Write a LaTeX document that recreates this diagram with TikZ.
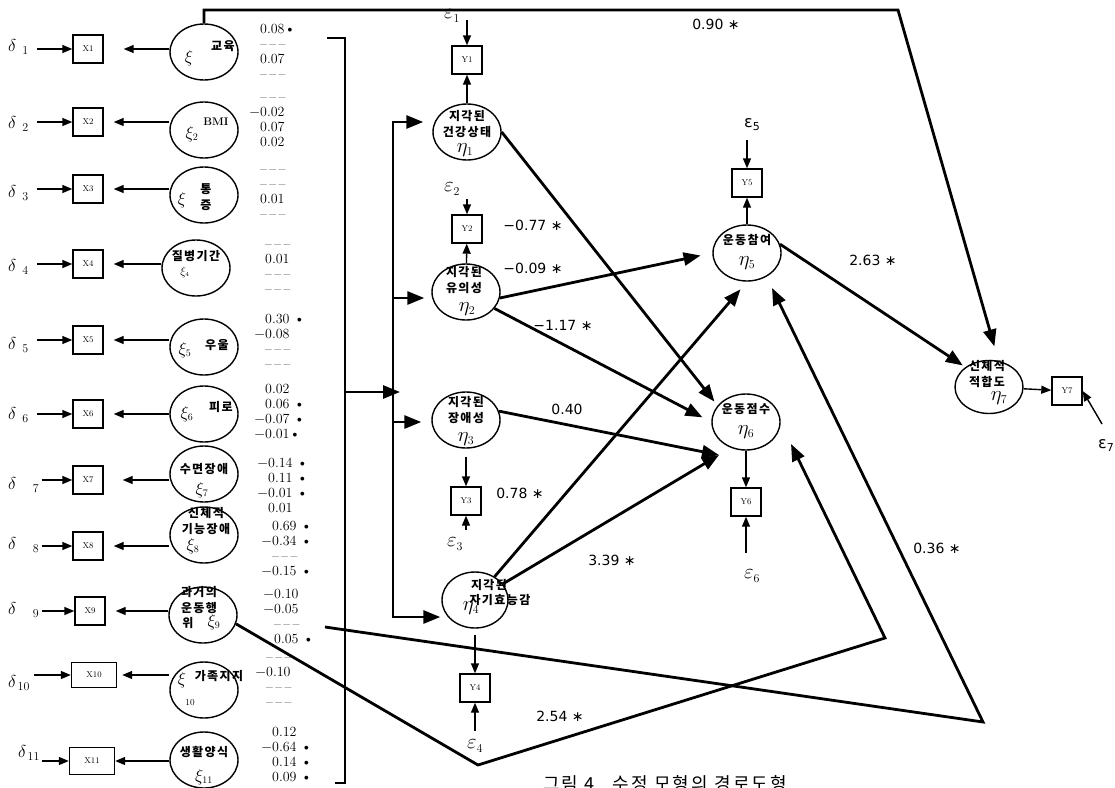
\documentclass[tikz,border=0pt]{standalone}
\usepackage{fontspec}
\newfontfamily\kor[LetterSpace=12]{Noto Sans CJK KR}
\newfontfamily\lab{DejaVu Sans}
\usetikzlibrary{arrows.meta,shapes.geometric}
\newcommand\nv{--\,--\,--}

\begin{document}
\begin{tikzpicture}[x=1pt,y=-1pt,
  lv/.style={draw,ellipse,line width=1.4pt,minimum width=68pt,minimum height=56pt,inner sep=0pt},
  mv/.style={draw,line width=1.4pt,minimum width=30pt,minimum height=28pt,inner sep=0pt,font=\fontsize{8.5}{9}\selectfont},
  meas/.style={-{Triangle[length=10pt,width=8pt]},line width=1.4pt},
  causal/.style={-{Triangle[length=17pt,width=13pt]},line width=2.8pt},
  kt/.style={font=\kor\bfseries\fontsize{12}{15.5}\selectfont,align=center,inner sep=0pt},
  gk/.style={font=\fontsize{17.28}{18}\selectfont,inner sep=0pt},
  ek/.style={font=\fontsize{20.74}{21}\selectfont,inner sep=0pt},
  err/.style={font=\fontsize{20.74}{21}\selectfont,inner sep=0pt},
  dl/.style={font=\fontsize{17.28}{18}\selectfont,inner sep=0pt,anchor=west},
  coef/.style={font=\fontsize{14}{15}\selectfont,align=left,anchor=north west,inner sep=0pt,execute at begin node=\strut},
  wt/.style={font=\lab\fontsize{14}{16}\selectfont,inner sep=0pt},
]
\useasboundingbox (0,0) rectangle (1115,787);

% xi side
\node[lv] (xi1) at (204,52) {};
\node[gk] (g1) at (189,58) {$\xi$};
\node[kt] (k1) at (223,46) {교육};
\node[mv] (x1) at (88,49) {X1};
\node[dl] (d1) at (8,47) {$\delta_{\;\;1}$};
\node[coef] (cf1) at (260,24) {0.08\textbullet\\\nv\\0.07\\\nv};

\node[lv] (xi2) at (204,130) {};
\node[gk] (g2) at (192,134) {$\xi_{\scriptscriptstyle 2}$};
\node[font=\bfseries\fontsize{11}{12}\selectfont,inner sep=0pt] (bmi) at (216,122) {BMI};
\node[mv] (x2) at (88,122) {X2};
\node[dl] (d2) at (8,124) {$\delta_{\;\;2}$};
\node[coef] (cf2) at (260,97) {\nv\\\llap{$-$}0.02\\0.07\\0.02};

\node[lv] (xi3) at (204,195) {};
\node[gk] (g3) at (182,200) {$\xi$};
\node[kt] (k3) at (206,197) {통\\증};
\node[mv] (x3) at (88,189) {X3};
\node[dl] (d3) at (8,193) {$\delta_{\;\;3}$};
\node[coef] (cf3) at (260,169) {\nv\\\nv\\0.01\\\nv};

\node[lv] (xi4) at (196,268) {};
\node[kt] (k4) at (196,256) {질병기간};
\node[font=\fontsize{12}{12}\selectfont,inner sep=0pt] (g4) at (185,272) {$\xi_{\scriptscriptstyle 4}$};
\node[mv] (x4) at (88,264) {X4};
\node[dl] (d4) at (8,267) {$\delta_{\;\;4}$};
\node[coef] (cf4) at (265,244) {\nv\\0.01\\\nv\\\nv};

\node[lv] (xi5) at (204,347) {};
\node[gk] (g5) at (185,350) {$\xi_{\scriptscriptstyle 5}$};
\node[kt] (k5) at (217,345) {우울};
\node[mv] (x5) at (88,340) {X5};
\node[dl] (d5) at (8,345) {$\delta_{\;\;5}$};
\node[coef] (cf5) at (265,314) {0.30 \textbullet\\\llap{$-$}0.08\\\nv\\\nv};

\node[lv] (xi6) at (204,414) {};
\node[gk] (g6) at (187,414) {$\xi_{\scriptscriptstyle 6}$};
\node[kt] (k6) at (221,407) {피로};
\node[mv] (x6) at (88,414) {X6};
\node[dl] (d6) at (8,415) {$\delta_{\;\;6}$};
\node[coef] (cf6) at (265,384) {0.02\\0.06 \textbullet\\\llap{$-$}0.07 \textbullet\\\llap{$-$}0.01\textbullet};

\node[lv] (xi7) at (204,474) {};
\node[kt] (k7) at (204,469) {수면장애};
\node[gk] (g7) at (202,490) {$\xi_{\scriptscriptstyle 7}$};
\node[mv] (x7) at (88,480) {X7};
\node[dl] (d7) at (8,485) {$\delta_{\quad 7}$};
\node[coef] (cf7) at (268,458) {\llap{$-$}0.14 \textbullet\\0.11 \textbullet\\\llap{$-$}0.01 \textbullet\\0.01};

\node[lv] (xi8) at (204,535) {};
\node[kt] (k8) at (206,521) {신체적\\기능장애};
\node[gk] (g8) at (193,546) {$\xi_{\scriptscriptstyle 8}$};
\node[mv] (x8) at (88,546) {X8};
\node[dl] (d8) at (8,545) {$\delta_{\quad 8}$};
\node[coef] (cf8) at (272,521) {0.69 \textbullet\\\llap{$-$}0.34 \textbullet\\\nv\\\llap{$-$}0.15 \textbullet};

\node[lv] (xi9) at (203,615) {};
\node[kt] (k9) at (199,600) {과거의\\운동행};
\node[kt] (k9b) at (188,623) {위};
\node[gk] (g9) at (214,622) {$\xi_{\scriptscriptstyle 9}$};
\node[mv] (x9) at (90,611) {X9};
\node[dl] (d9) at (8,610) {$\delta_{\quad 9}$};
\node[coef] (cf9) at (274,589) {\llap{$-$}0.10\\\llap{$-$}0.05\\\nv\\0.05 \textbullet};

\node[lv] (xi10) at (204,690) {};
\node[gk] (g10) at (182,680) {$\xi$};
\node[font=\fontsize{9}{9}\selectfont,inner sep=0pt] (s10) at (190,703) {10};
\node[kt] (k10) at (219,676) {가족지지};
\node[mv,minimum width=45pt,minimum height=25pt] (x10) at (94,675) {X10};
\node[dl] (d10) at (8,683) {$\delta_{\,10}$};
\node[coef] (cf10) at (266,657) {\nv\\\llap{$-$}0.10\\\nv\\\nv};

\node[lv] (xi11) at (204,760) {};
\node[kt] (k11) at (204,752) {생활양식};
\node[gk] (g11) at (204,777) {$\xi_{\scriptscriptstyle 11}$};
\node[mv,minimum width=45pt,minimum height=27pt] (x11) at (92,761) {X11};
\node[dl] (d11) at (18,753) {$\delta_{\,11}$};
\node[coef] (cf11) at (272,727) {0.12\\\llap{$-$}0.64 \textbullet\\0.14 \textbullet\\0.09 \textbullet};

\draw[meas,shorten <=8pt] (d1.east |- x1) -- (x1);
\draw[meas,shorten <=8pt] (d2.east |- x2) -- (x2);
\draw[meas,shorten <=8pt] (d3.east |- x3) -- (x3);
\draw[meas,shorten <=8pt] (d4.east |- x4) -- (x4);
\draw[meas,shorten <=8pt] (d5.east |- x5) -- (x5);
\draw[meas,shorten <=8pt] (d6.east |- x6) -- (x6);
\draw[meas,shorten <=2pt] (d7.east |- x7) -- (x7);
\draw[meas,shorten <=2pt] (d8.east |- x8) -- (x8);
\draw[meas,shorten <=2pt] (d9.east |- x9) -- (x9);
\draw[meas,shorten <=4pt] (d10.east |- x10) -- (x10);
\draw[meas,shorten <=2pt] (d11.east |- x11) -- (x11);

\draw[meas,shorten >=20pt] (x1 -| xi1.west) -- (x1);
\draw[meas,shorten >=10pt] (x2 -| xi2.west) -- (x2);
\draw[meas,shorten >=10pt] (x3 -| xi3.west) -- (x3);
\draw[meas,shorten >=10pt] (x4 -| xi4.west) -- (x4);
\draw[meas,shorten >=10pt] (x5 -| xi5.west) -- (x5);
\draw[meas,shorten >=10pt] (x6 -| xi6.west) -- (x6);
\draw[meas,shorten >=19pt] (x7 -| xi7.west) -- (x7);
\draw[meas,shorten >=10pt] (x8 -| xi8.west) -- (x8);
\draw[meas,shorten >=10pt] (x9 -| xi9.west) -- (x9);
\draw[meas,shorten >=5pt] (x10 -| xi10.west) -- (x10);
\draw[meas] (x11 -| xi11.west) -- (x11);

% bracket and bus to the etas
\draw[line width=2.8pt] (327,38) -- (345,38) -- (345,783) -- (335,783);
\coordinate (bus0) at (345,392);
\coordinate (bus1) at (393,122);
\coordinate (bus2) at (393,298);
\coordinate (bus3) at (393,422);
\coordinate (bus4) at (393,617);
\draw[line width=2.8pt,line cap=rect] (bus1) -- (bus4);

% eta side
\node[lv] (eta1) at (467,132) {};
\node[kt] (h1) at (467,124) {지각된\\건강상태};
\node[ek] (n1) at (465,150) {$\eta_{\scriptscriptstyle 1}$};
\node[mv] (y1) at (467,60) {Y1};
\node[err] (e1) at (452,16) {$\varepsilon_{\scriptscriptstyle 1}$};
\coordinate (t1) at (467,20);

\node[lv] (eta2) at (466,292) {};
\node[kt] (h2) at (464,280) {지각된\\유의성};
\node[ek] (n2) at (467,309) {$\eta_{\scriptscriptstyle 2}$};
\node[mv] (y2) at (467,229) {Y2};
\node[err] (e2) at (452,189) {$\varepsilon_{\scriptscriptstyle 2}$};
\coordinate (t2) at (467,199);

\node[lv] (eta3) at (466,420) {};
\node[kt] (h3) at (466,410) {지각된\\장애성};
\node[ek] (n3) at (466,439) {$\eta_{\scriptscriptstyle 3}$};
\node[mv] (y3) at (466,501) {Y3};
\node[err] (e3) at (455,544) {$\varepsilon_{\scriptscriptstyle 3}$};
\coordinate (t3) at (466,530);

\node[lv,minimum width=66pt] (eta4) at (475,600) {};
\node[kt] (h4) at (489,585) {지각된};
\node[kt] (h4b) at (500,600) {자기효능감};
\node[ek] (n4) at (471,608) {$\eta_{\scriptscriptstyle 4}$};
\node[mv] (y4) at (475,688) {Y4};
\node[err] (e4) at (475,746) {$\varepsilon_{\scriptscriptstyle 4}$};
\coordinate (t4) at (475,731);

\node[lv] (eta5) at (747,253) {};
\node[kt] (h5) at (747,240) {운동참여};
\node[ek] (n5) at (747,263) {$\eta_{\scriptscriptstyle 5}$};
\node[mv] (y5) at (747,183) {Y5};
\node[font=\lab\fontsize{16}{16}\selectfont,inner sep=0pt] (e5) at (752,125) {ε\raisebox{-3pt}{\fontsize{11}{11}\selectfont 5}};
\coordinate (t5) at (747,140);

\node[lv] (eta6) at (746,422) {};
\node[kt] (h6) at (746,409) {운동점수};
\node[ek] (n6) at (746,432) {$\eta_{\scriptscriptstyle 6}$};
\node[mv] (y6) at (746,502) {Y6};
\node[err] (e6) at (752,576) {$\varepsilon_{\scriptscriptstyle 6}$};
\coordinate (t6) at (746,553);

\node[lv,minimum height=53pt] (eta7) at (989,387) {};
\node[kt] (h7) at (987,374) {신체적\\적합도};
\node[ek] (n7) at (999,398) {$\eta_{\scriptscriptstyle 7}$};
\node[mv] (y7) at (1067,391) {Y7};
\node[font=\lab\fontsize{16}{16}\selectfont,inner sep=0pt] (e7) at (1106,446) {ε\raisebox{-3pt}{\fontsize{11}{11}\selectfont 7}};
\coordinate (t7) at (1102,424);

\draw[meas] (eta1) -- (y1);
\draw[meas] (t1) -- (y1);
\draw[meas] (eta2) -- (y2);
\draw[meas] (t2) -- (y2);
\draw[meas,shorten <=8pt] (eta3) -- (y3);
\draw[meas] (t3) -- (y3);
\draw[meas,shorten <=6pt] (eta4) -- (y4);
\draw[meas] (t4) -- (y4);
\draw[meas] (eta5) -- (y5);
\draw[meas] (t5) -- (y5);
\draw[meas] (eta6) -- (y6);
\draw[meas] (t6) -- (y6);
\draw[meas] (eta7) -- (y7);
\draw[meas] (t7) -- (y7.east);

\draw[causal,shorten >=-7pt] (bus0) -- (bus0 -| bus1);
\draw[causal,shorten >=9pt] (bus1) -- (bus1 -| eta1.west);
\draw[causal,shorten >=7pt] (bus2) -- (bus2 -| eta2.west);
\draw[causal,shorten >=10pt] (bus3) -- (bus3 -| eta3.west);
\draw[causal,shorten >=1pt] (bus4) -- (bus4 -| eta4.west);

% structural paths
\coordinate (tr) at (898,10);
\draw[causal,shorten >=15pt] (xi1.north) |- (tr) -- (eta7.70);
\node[wt] (w1) at (716,24) {0.90 ∗};

\draw[causal,shorten >=5pt] (eta1.east) -- (eta6.150);
\node[wt] (w2) at (533,225) {−0.77 ∗};
\draw[causal,shorten >=12pt] (eta2.-10) -- (eta5.west);
\node[wt] (w3) at (533,268) {−0.09 ∗};
\draw[causal,shorten >=10pt] (eta2.-30) -- (eta6.west);
\node[wt] (w4) at (563,325) {−1.17 ∗};

\coordinate (cv6) at (719,455);
\draw[causal] (eta3.15) -- (cv6);
\node[wt] (w5) at (567,409) {0.40};
\draw[causal] (eta4.30) -- (cv6);
\node[wt] (w6) at (612,560) {3.39 ∗};
\draw[causal,shorten >=10pt] (eta4.50) -- (eta5.south);
\node[wt] (w7) at (520,493) {0.78 ∗};
\draw[causal,shorten >=3pt] (eta5.15) -- (eta7.140);
\node[wt] (w8) at (873,260) {2.63 ∗};

\coordinate (va) at (478,765);
\coordinate (vb) at (885,638);
\coordinate (ta6) at (791,444);
\draw[causal] (xi9.-15) -- (va) -- (vb) -- (ta6);
\node[wt] (w9) at (560,716) {2.54 ∗};

\coordinate (s9) at (325,627);
\coordinate (vc) at (983,722);
\coordinate (tb5) at (772,288);
\draw[causal] (s9) -- (vc) -- (tb5);
\node[wt] (w10) at (937,548) {0.36 ∗};

\node[font=\kor\fontsize{18}{18}\selectfont,anchor=north west,inner sep=0pt] (cap) at (543,775) {그림 4\quad 수정 모형의 경로도형};
\end{tikzpicture}
\end{document}
